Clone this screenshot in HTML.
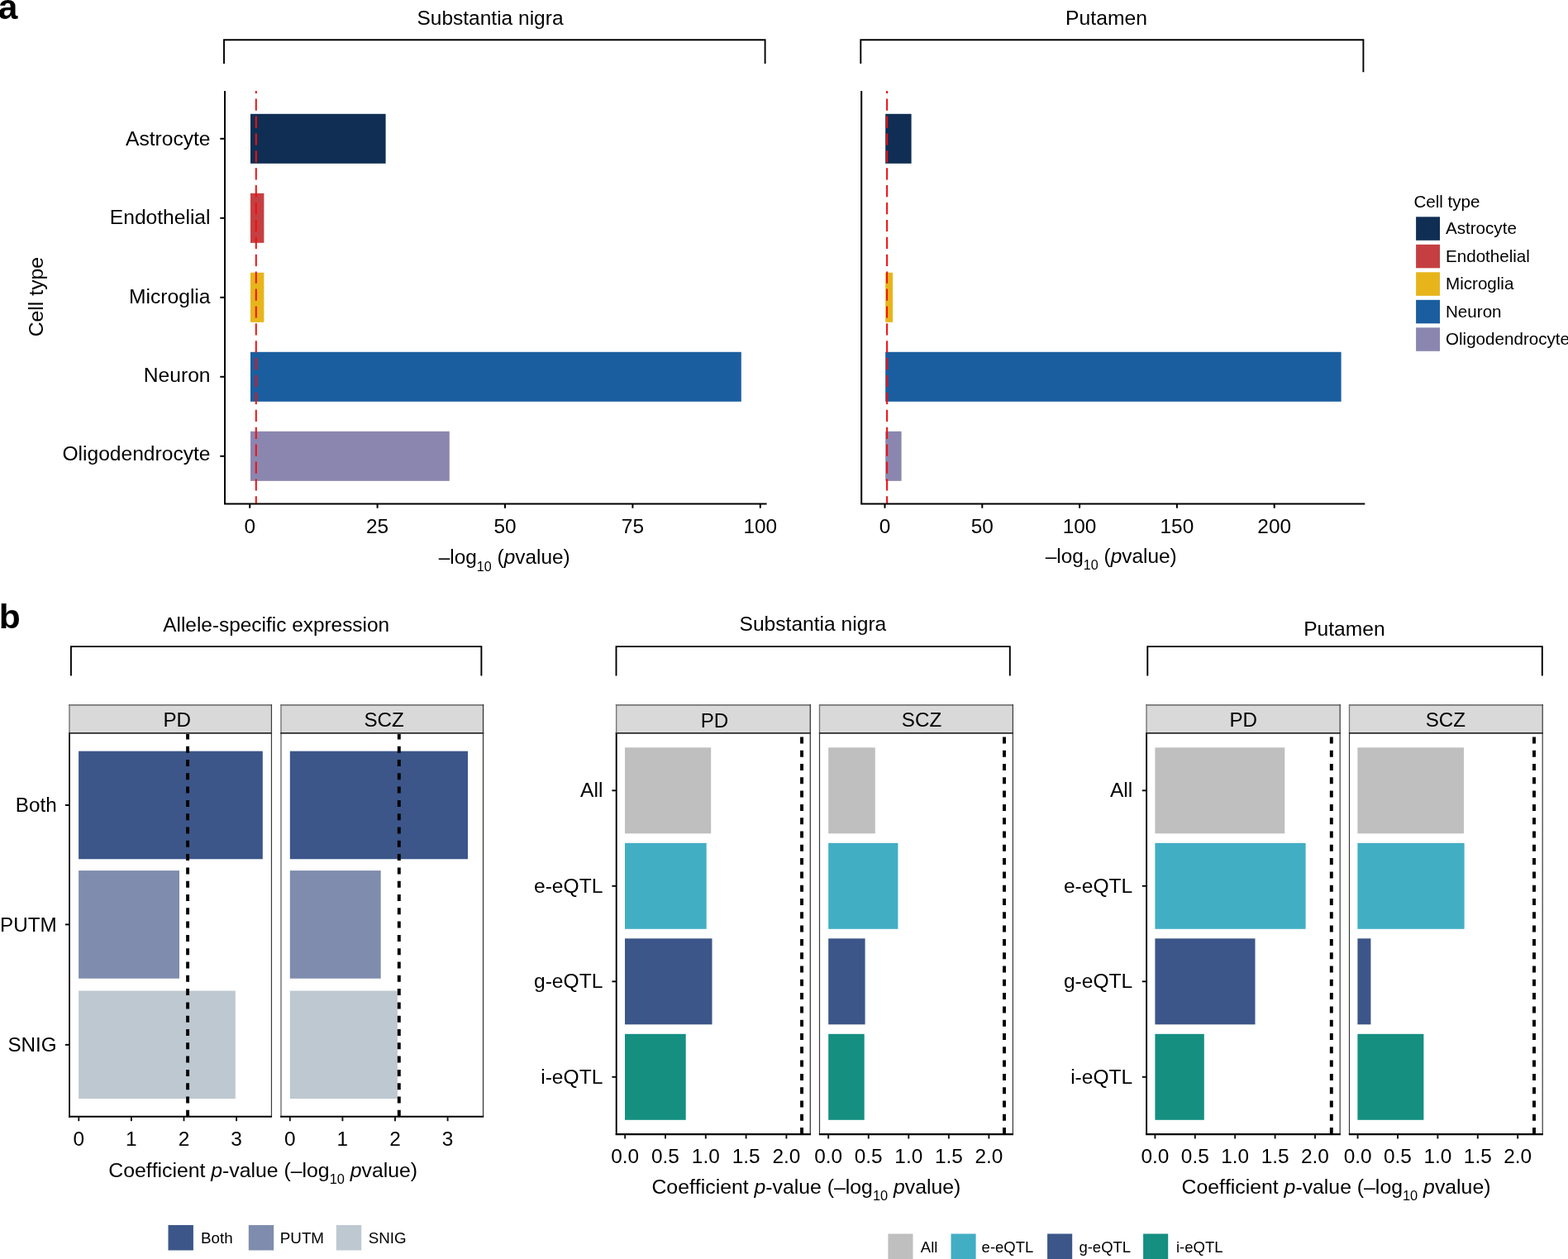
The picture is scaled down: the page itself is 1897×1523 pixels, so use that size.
<!DOCTYPE html>
<html><head><meta charset="utf-8"><title>Figure</title>
<style>
html,body{margin:0;padding:0;background:#fff;}
body{width:1897px;height:1523px;overflow:hidden;}
svg{display:block;}
text{font-family:"Liberation Sans", Arial, Helvetica, sans-serif;fill:#000;font-kerning:none;font-variant-ligatures:none;}
</style></head>
<body>
<svg width="1897" height="1523" viewBox="0 0 1897 1523">
<rect x="0" y="0" width="1897" height="1523" fill="#fff"/>
<text x="-2.20" y="22.90" font-size="42.5" text-anchor="start" font-weight="bold">a</text>
<text x="0" y="0" font-size="40.5" font-weight="bold" transform="translate(-1.2,759.7) scale(1.05,1)">b</text>
<text x="593.00" y="30.40" font-size="24.5" text-anchor="middle">Substantia nigra</text>
<path d="M271,77 V48.2 H925.6 V77" fill="none" stroke="#000" stroke-width="1.9"/>
<text x="1338.50" y="30.40" font-size="24.7" text-anchor="middle">Putamen</text>
<path d="M1041.3,77 V48.2 H1649.4 V87.3" fill="none" stroke="#000" stroke-width="1.9"/>
<rect x="303.00" y="137.80" width="163.60" height="60.00" fill="#102e54"/>
<rect x="303.00" y="233.80" width="16.40" height="60.00" fill="#c53f42"/>
<rect x="303.00" y="329.80" width="16.40" height="60.00" fill="#e7b51b"/>
<rect x="303.00" y="425.80" width="593.80" height="60.00" fill="#1b5ea0"/>
<rect x="303.00" y="521.80" width="240.80" height="60.00" fill="#8b86b0"/>
<rect x="1071.20" y="137.80" width="31.40" height="60.00" fill="#102e54"/>
<rect x="1071.20" y="329.80" width="8.90" height="60.00" fill="#e7b51b"/>
<rect x="1071.20" y="425.80" width="551.40" height="60.00" fill="#1b5ea0"/>
<rect x="1071.20" y="521.80" width="19.40" height="60.00" fill="#8b86b0"/>
<line x1="309.80" y1="110.10" x2="309.80" y2="609.00" stroke="#f01010" stroke-width="2" stroke-dasharray="14.2 6.7" stroke-dashoffset="11.4"/>
<line x1="1073.10" y1="110.10" x2="1073.10" y2="609.00" stroke="#f01010" stroke-width="2" stroke-dasharray="14.2 6.7" stroke-dashoffset="11.4"/>
<path d="M272,110 V609.4 H927.6" fill="none" stroke="#000" stroke-width="2"/>
<path d="M1042.2,110 V609.4 H1651.3" fill="none" stroke="#000" stroke-width="2"/>
<line x1="266.30" y1="167.80" x2="272.00" y2="167.80" stroke="#000" stroke-width="2"/>
<line x1="266.30" y1="263.80" x2="272.00" y2="263.80" stroke="#000" stroke-width="2"/>
<line x1="266.30" y1="359.80" x2="272.00" y2="359.80" stroke="#000" stroke-width="2"/>
<line x1="266.30" y1="455.80" x2="272.00" y2="455.80" stroke="#000" stroke-width="2"/>
<line x1="266.30" y1="551.80" x2="272.00" y2="551.80" stroke="#000" stroke-width="2"/>
<line x1="302.20" y1="609.40" x2="302.20" y2="614.70" stroke="#000" stroke-width="2"/>
<text x="302.20" y="644.50" font-size="24.4" text-anchor="middle">0</text>
<line x1="456.60" y1="609.40" x2="456.60" y2="614.70" stroke="#000" stroke-width="2"/>
<text x="456.60" y="644.50" font-size="24.4" text-anchor="middle">25</text>
<line x1="611.00" y1="609.40" x2="611.00" y2="614.70" stroke="#000" stroke-width="2"/>
<text x="611.00" y="644.50" font-size="24.4" text-anchor="middle">50</text>
<line x1="765.40" y1="609.40" x2="765.40" y2="614.70" stroke="#000" stroke-width="2"/>
<text x="765.40" y="644.50" font-size="24.4" text-anchor="middle">75</text>
<line x1="919.80" y1="609.40" x2="919.80" y2="614.70" stroke="#000" stroke-width="2"/>
<text x="919.80" y="644.50" font-size="24.4" text-anchor="middle">100</text>
<line x1="1070.50" y1="609.40" x2="1070.50" y2="614.70" stroke="#000" stroke-width="2"/>
<text x="1070.50" y="644.50" font-size="24.4" text-anchor="middle">0</text>
<line x1="1188.30" y1="609.40" x2="1188.30" y2="614.70" stroke="#000" stroke-width="2"/>
<text x="1188.30" y="644.50" font-size="24.4" text-anchor="middle">50</text>
<line x1="1306.10" y1="609.40" x2="1306.10" y2="614.70" stroke="#000" stroke-width="2"/>
<text x="1306.10" y="644.50" font-size="24.4" text-anchor="middle">100</text>
<line x1="1423.90" y1="609.40" x2="1423.90" y2="614.70" stroke="#000" stroke-width="2"/>
<text x="1423.90" y="644.50" font-size="24.4" text-anchor="middle">150</text>
<line x1="1541.70" y1="609.40" x2="1541.70" y2="614.70" stroke="#000" stroke-width="2"/>
<text x="1541.70" y="644.50" font-size="24.4" text-anchor="middle">200</text>
<text x="254.50" y="175.90" font-size="24.6" text-anchor="end">Astrocyte</text>
<text x="254.50" y="271.00" font-size="24.6" text-anchor="end">Endothelial</text>
<text x="254.50" y="366.70" font-size="24.6" text-anchor="end">Microglia</text>
<text x="254.50" y="461.90" font-size="24.6" text-anchor="end">Neuron</text>
<text x="254.50" y="556.60" font-size="24.6" text-anchor="end">Oligodendrocyte</text>
<text x="610.20" y="682.30" font-size="24.4" text-anchor="middle">–log<tspan font-size="16.1" dy="8.4">10</tspan><tspan dy="-8.4"> (</tspan><tspan font-style="italic">p</tspan>value)</text>
<text x="1344.20" y="680.80" font-size="24.4" text-anchor="middle">–log<tspan font-size="16.1" dy="8.4">10</tspan><tspan dy="-8.4"> (</tspan><tspan font-style="italic">p</tspan>value)</text>
<text transform="translate(51.6,359.1) rotate(-90)" font-size="24.8" text-anchor="middle">Cell type</text>
<text x="1710.40" y="250.60" font-size="20.6" text-anchor="start">Cell type</text>
<rect x="1713.10" y="262.30" width="28.90" height="28.50" fill="#102e54"/>
<text x="1749.00" y="283.30" font-size="20.6" text-anchor="start">Astrocyte</text>
<rect x="1713.10" y="295.80" width="28.90" height="28.50" fill="#c53f42"/>
<text x="1749.00" y="316.80" font-size="20.6" text-anchor="start">Endothelial</text>
<rect x="1713.10" y="329.30" width="28.90" height="28.50" fill="#e7b51b"/>
<text x="1749.00" y="350.30" font-size="20.6" text-anchor="start">Microglia</text>
<rect x="1713.10" y="362.80" width="28.90" height="28.50" fill="#1b5ea0"/>
<text x="1749.00" y="383.80" font-size="20.6" text-anchor="start">Neuron</text>
<rect x="1713.10" y="396.30" width="28.90" height="28.50" fill="#8b86b0"/>
<text x="1749.00" y="417.30" font-size="20.6" text-anchor="start">Oligodendrocyte</text>
<text x="334.20" y="763.50" font-size="24.4" text-anchor="middle">Allele-specific expression</text>
<path d="M85.9,817.6 V782.1 H582.4 V817.6" fill="none" stroke="#000" stroke-width="1.9"/>
<rect x="83.05" y="852.10" width="246.00" height="34.80" fill="#d9d9d9"/>
<line x1="83.05" y1="852.90" x2="329.05" y2="852.90" stroke="#777" stroke-width="1.6"/>
<line x1="84.00" y1="852.10" x2="84.00" y2="886.90" stroke="#737373" stroke-width="1.3"/>
<line x1="328.45" y1="852.10" x2="328.45" y2="886.90" stroke="#3c3c3c" stroke-width="1.2"/>
<text x="214.30" y="878.80" font-size="24.2" text-anchor="middle">PD</text>
<rect x="95.10" y="908.65" width="222.70" height="130.60" fill="#3c5689"/>
<rect x="95.10" y="1053.10" width="121.90" height="130.60" fill="#7f8cae"/>
<rect x="95.10" y="1198.55" width="189.70" height="130.60" fill="#bec8d1"/>
<line x1="227.10" y1="1350.80" x2="227.10" y2="887.90" stroke="#000" stroke-width="3.9" stroke-dasharray="8 8.3"/>
<line x1="328.45" y1="886.20" x2="328.45" y2="1350.80" stroke="#3c3c3c" stroke-width="1.2"/>
<line x1="84.00" y1="886.20" x2="84.00" y2="1351.80" stroke="#222" stroke-width="1.9"/>
<line x1="83.05" y1="886.95" x2="329.05" y2="886.95" stroke="#2b2b2b" stroke-width="1.8"/>
<line x1="83.05" y1="1350.80" x2="329.05" y2="1350.80" stroke="#000" stroke-width="2.1"/>
<line x1="95.30" y1="1351.30" x2="95.30" y2="1356.20" stroke="#111" stroke-width="1.9"/>
<text x="95.30" y="1386.20" font-size="24.4" text-anchor="middle">0</text>
<line x1="158.90" y1="1351.30" x2="158.90" y2="1356.20" stroke="#111" stroke-width="1.9"/>
<text x="158.90" y="1386.20" font-size="24.4" text-anchor="middle">1</text>
<line x1="222.50" y1="1351.30" x2="222.50" y2="1356.20" stroke="#111" stroke-width="1.9"/>
<text x="222.50" y="1386.20" font-size="24.4" text-anchor="middle">2</text>
<line x1="286.10" y1="1351.30" x2="286.10" y2="1356.20" stroke="#111" stroke-width="1.9"/>
<text x="286.10" y="1386.20" font-size="24.4" text-anchor="middle">3</text>
<rect x="339.20" y="852.10" width="246.00" height="34.80" fill="#d9d9d9"/>
<line x1="339.20" y1="852.90" x2="585.20" y2="852.90" stroke="#777" stroke-width="1.6"/>
<line x1="340.00" y1="852.10" x2="340.00" y2="886.90" stroke="#737373" stroke-width="1.3"/>
<line x1="584.55" y1="852.10" x2="584.55" y2="886.90" stroke="#3a3a3a" stroke-width="1.3"/>
<text x="464.60" y="878.70" font-size="24.2" text-anchor="middle">SCZ</text>
<rect x="350.80" y="908.65" width="215.20" height="130.60" fill="#3c5689"/>
<rect x="350.80" y="1053.10" width="109.90" height="130.60" fill="#7f8cae"/>
<rect x="350.80" y="1198.55" width="130.10" height="130.60" fill="#bec8d1"/>
<line x1="482.80" y1="1350.80" x2="482.80" y2="887.90" stroke="#000" stroke-width="3.9" stroke-dasharray="8 8.3"/>
<line x1="584.55" y1="886.20" x2="584.55" y2="1350.80" stroke="#3a3a3a" stroke-width="1.3"/>
<line x1="340.00" y1="886.20" x2="340.00" y2="1351.80" stroke="#808080" stroke-width="1.6"/>
<line x1="339.20" y1="886.95" x2="585.20" y2="886.95" stroke="#2b2b2b" stroke-width="1.8"/>
<line x1="339.20" y1="1350.80" x2="585.20" y2="1350.80" stroke="#000" stroke-width="2.1"/>
<line x1="350.80" y1="1351.30" x2="350.80" y2="1356.20" stroke="#111" stroke-width="1.9"/>
<text x="350.80" y="1386.20" font-size="24.4" text-anchor="middle">0</text>
<line x1="414.40" y1="1351.30" x2="414.40" y2="1356.20" stroke="#111" stroke-width="1.9"/>
<text x="414.40" y="1386.20" font-size="24.4" text-anchor="middle">1</text>
<line x1="478.00" y1="1351.30" x2="478.00" y2="1356.20" stroke="#111" stroke-width="1.9"/>
<text x="478.00" y="1386.20" font-size="24.4" text-anchor="middle">2</text>
<line x1="541.60" y1="1351.30" x2="541.60" y2="1356.20" stroke="#111" stroke-width="1.9"/>
<text x="541.60" y="1386.20" font-size="24.4" text-anchor="middle">3</text>
<line x1="78.90" y1="973.95" x2="84.00" y2="973.95" stroke="#000" stroke-width="1.9"/>
<text x="68.60" y="981.80" font-size="24.2" text-anchor="end">Both</text>
<line x1="78.90" y1="1118.40" x2="84.00" y2="1118.40" stroke="#000" stroke-width="1.9"/>
<text x="68.60" y="1126.90" font-size="24.2" text-anchor="end">PUTM</text>
<line x1="78.90" y1="1263.85" x2="84.00" y2="1263.85" stroke="#000" stroke-width="1.9"/>
<text x="68.60" y="1271.90" font-size="24.2" text-anchor="end">SNIG</text>
<text x="318.20" y="1423.80" font-size="24.8" text-anchor="middle">Coefficient <tspan font-style="italic">p</tspan>-value (–log<tspan font-size="16.4" dy="8.2">10</tspan><tspan dy="-8.2"> </tspan><tspan font-style="italic">p</tspan>value)</text>
<rect x="203.50" y="1482.00" width="30.40" height="30.50" fill="#3c5689"/>
<text x="243.00" y="1503.50" font-size="18.8" text-anchor="start">Both</text>
<rect x="300.80" y="1482.00" width="30.40" height="30.50" fill="#7f8cae"/>
<text x="338.80" y="1503.50" font-size="18.8" text-anchor="start">PUTM</text>
<rect x="406.80" y="1482.00" width="30.40" height="30.50" fill="#bec8d1"/>
<text x="445.70" y="1503.50" font-size="18.8" text-anchor="start">SNIG</text>
<text x="983.40" y="763.20" font-size="24.6" text-anchor="middle">Substantia nigra</text>
<path d="M745.5,817.6 V782.1 H1221.8 V817.6" fill="none" stroke="#000" stroke-width="1.9"/>
<rect x="744.75" y="852.10" width="236.20" height="34.80" fill="#d9d9d9"/>
<line x1="744.75" y1="852.90" x2="980.95" y2="852.90" stroke="#777" stroke-width="1.6"/>
<line x1="745.70" y1="852.10" x2="745.70" y2="886.90" stroke="#737373" stroke-width="1.3"/>
<line x1="980.30" y1="852.10" x2="980.30" y2="886.90" stroke="#3a3a3a" stroke-width="1.3"/>
<text x="864.50" y="879.50" font-size="24.2" text-anchor="middle">PD</text>
<rect x="756.00" y="904.30" width="104.20" height="104.00" fill="#bfbfbf"/>
<rect x="756.00" y="1019.80" width="98.70" height="104.00" fill="#42aec4"/>
<rect x="756.00" y="1135.30" width="105.50" height="104.00" fill="#3c5689"/>
<rect x="756.00" y="1250.80" width="73.70" height="104.00" fill="#148f80"/>
<line x1="970.05" y1="1372.10" x2="970.05" y2="887.90" stroke="#000" stroke-width="3.9" stroke-dasharray="8 8.3"/>
<line x1="980.30" y1="886.20" x2="980.30" y2="1372.10" stroke="#3a3a3a" stroke-width="1.3"/>
<line x1="745.70" y1="886.20" x2="745.70" y2="1373.10" stroke="#000" stroke-width="1.9"/>
<line x1="744.75" y1="886.95" x2="980.95" y2="886.95" stroke="#2b2b2b" stroke-width="1.8"/>
<line x1="744.75" y1="1372.10" x2="980.95" y2="1372.10" stroke="#000" stroke-width="2.1"/>
<line x1="756.20" y1="1372.60" x2="756.20" y2="1377.50" stroke="#111" stroke-width="1.9"/>
<text x="756.20" y="1406.80" font-size="24.4" text-anchor="middle">0.0</text>
<line x1="805.00" y1="1372.60" x2="805.00" y2="1377.50" stroke="#111" stroke-width="1.9"/>
<text x="805.00" y="1406.80" font-size="24.4" text-anchor="middle">0.5</text>
<line x1="853.80" y1="1372.60" x2="853.80" y2="1377.50" stroke="#111" stroke-width="1.9"/>
<text x="853.80" y="1406.80" font-size="24.4" text-anchor="middle">1.0</text>
<line x1="902.60" y1="1372.60" x2="902.60" y2="1377.50" stroke="#111" stroke-width="1.9"/>
<text x="902.60" y="1406.80" font-size="24.4" text-anchor="middle">1.5</text>
<line x1="951.40" y1="1372.60" x2="951.40" y2="1377.50" stroke="#111" stroke-width="1.9"/>
<text x="951.40" y="1406.80" font-size="24.4" text-anchor="middle">2.0</text>
<rect x="990.90" y="852.10" width="235.10" height="34.80" fill="#d9d9d9"/>
<line x1="990.90" y1="852.90" x2="1226.00" y2="852.90" stroke="#777" stroke-width="1.6"/>
<line x1="991.50" y1="852.10" x2="991.50" y2="886.90" stroke="#737373" stroke-width="1.3"/>
<line x1="1225.40" y1="852.10" x2="1225.40" y2="886.90" stroke="#3a3a3a" stroke-width="1.2"/>
<text x="1115.00" y="879.30" font-size="24.2" text-anchor="middle">SCZ</text>
<rect x="1002.20" y="904.30" width="56.60" height="104.00" fill="#bfbfbf"/>
<rect x="1002.20" y="1019.80" width="84.20" height="104.00" fill="#42aec4"/>
<rect x="1002.20" y="1135.30" width="44.40" height="104.00" fill="#3c5689"/>
<rect x="1002.20" y="1250.80" width="43.50" height="104.00" fill="#148f80"/>
<line x1="1215.00" y1="1372.10" x2="1215.00" y2="887.90" stroke="#000" stroke-width="3.9" stroke-dasharray="8 8.3"/>
<line x1="1225.40" y1="886.20" x2="1225.40" y2="1372.10" stroke="#3a3a3a" stroke-width="1.2"/>
<line x1="991.50" y1="886.20" x2="991.50" y2="1373.10" stroke="#3a3a3a" stroke-width="1.2"/>
<line x1="990.90" y1="886.95" x2="1226.00" y2="886.95" stroke="#2b2b2b" stroke-width="1.8"/>
<line x1="990.90" y1="1372.10" x2="1226.00" y2="1372.10" stroke="#000" stroke-width="2.1"/>
<line x1="1002.20" y1="1372.60" x2="1002.20" y2="1377.50" stroke="#111" stroke-width="1.9"/>
<text x="1002.20" y="1406.80" font-size="24.4" text-anchor="middle">0.0</text>
<line x1="1050.75" y1="1372.60" x2="1050.75" y2="1377.50" stroke="#111" stroke-width="1.9"/>
<text x="1050.75" y="1406.80" font-size="24.4" text-anchor="middle">0.5</text>
<line x1="1099.30" y1="1372.60" x2="1099.30" y2="1377.50" stroke="#111" stroke-width="1.9"/>
<text x="1099.30" y="1406.80" font-size="24.4" text-anchor="middle">1.0</text>
<line x1="1147.85" y1="1372.60" x2="1147.85" y2="1377.50" stroke="#111" stroke-width="1.9"/>
<text x="1147.85" y="1406.80" font-size="24.4" text-anchor="middle">1.5</text>
<line x1="1196.40" y1="1372.60" x2="1196.40" y2="1377.50" stroke="#111" stroke-width="1.9"/>
<text x="1196.40" y="1406.80" font-size="24.4" text-anchor="middle">2.0</text>
<line x1="740.40" y1="956.30" x2="745.70" y2="956.30" stroke="#000" stroke-width="1.9"/>
<text x="729.40" y="964.20" font-size="24.6" text-anchor="end">All</text>
<line x1="740.40" y1="1071.80" x2="745.70" y2="1071.80" stroke="#000" stroke-width="1.9"/>
<text x="729.40" y="1079.70" font-size="24.6" text-anchor="end">e-eQTL</text>
<line x1="740.40" y1="1187.30" x2="745.70" y2="1187.30" stroke="#000" stroke-width="1.9"/>
<text x="729.40" y="1195.20" font-size="24.6" text-anchor="end">g-eQTL</text>
<line x1="740.40" y1="1302.80" x2="745.70" y2="1302.80" stroke="#000" stroke-width="1.9"/>
<text x="729.40" y="1310.70" font-size="24.6" text-anchor="end">i-eQTL</text>
<text x="975.40" y="1443.80" font-size="24.8" text-anchor="middle">Coefficient <tspan font-style="italic">p</tspan>-value (–log<tspan font-size="16.4" dy="8.2">10</tspan><tspan dy="-8.2"> </tspan><tspan font-style="italic">p</tspan>value)</text>
<text x="1626.40" y="769.30" font-size="24.6" text-anchor="middle">Putamen</text>
<path d="M1388.3,817.6 V782.1 H1865.8 V817.6" fill="none" stroke="#000" stroke-width="1.9"/>
<rect x="1386.15" y="852.10" width="235.70" height="34.80" fill="#d9d9d9"/>
<line x1="1386.15" y1="852.90" x2="1621.85" y2="852.90" stroke="#777" stroke-width="1.6"/>
<line x1="1387.10" y1="852.10" x2="1387.10" y2="886.90" stroke="#737373" stroke-width="1.3"/>
<line x1="1621.20" y1="852.10" x2="1621.20" y2="886.90" stroke="#4a4a4a" stroke-width="1.3"/>
<text x="1504.30" y="878.80" font-size="24.2" text-anchor="middle">PD</text>
<rect x="1397.40" y="904.30" width="156.90" height="104.00" fill="#bfbfbf"/>
<rect x="1397.40" y="1019.80" width="182.20" height="104.00" fill="#42aec4"/>
<rect x="1397.40" y="1135.30" width="121.10" height="104.00" fill="#3c5689"/>
<rect x="1397.40" y="1250.80" width="59.40" height="104.00" fill="#148f80"/>
<line x1="1610.80" y1="1372.10" x2="1610.80" y2="887.90" stroke="#000" stroke-width="3.9" stroke-dasharray="8 8.3"/>
<line x1="1621.20" y1="886.20" x2="1621.20" y2="1372.10" stroke="#4a4a4a" stroke-width="1.3"/>
<line x1="1387.10" y1="886.20" x2="1387.10" y2="1373.10" stroke="#000" stroke-width="1.9"/>
<line x1="1386.15" y1="886.95" x2="1621.85" y2="886.95" stroke="#2b2b2b" stroke-width="1.8"/>
<line x1="1386.15" y1="1372.10" x2="1621.85" y2="1372.10" stroke="#000" stroke-width="2.1"/>
<line x1="1397.40" y1="1372.60" x2="1397.40" y2="1377.50" stroke="#111" stroke-width="1.9"/>
<text x="1397.40" y="1406.80" font-size="24.4" text-anchor="middle">0.0</text>
<line x1="1445.80" y1="1372.60" x2="1445.80" y2="1377.50" stroke="#111" stroke-width="1.9"/>
<text x="1445.80" y="1406.80" font-size="24.4" text-anchor="middle">0.5</text>
<line x1="1494.20" y1="1372.60" x2="1494.20" y2="1377.50" stroke="#111" stroke-width="1.9"/>
<text x="1494.20" y="1406.80" font-size="24.4" text-anchor="middle">1.0</text>
<line x1="1542.60" y1="1372.60" x2="1542.60" y2="1377.50" stroke="#111" stroke-width="1.9"/>
<text x="1542.60" y="1406.80" font-size="24.4" text-anchor="middle">1.5</text>
<line x1="1591.00" y1="1372.60" x2="1591.00" y2="1377.50" stroke="#111" stroke-width="1.9"/>
<text x="1591.00" y="1406.80" font-size="24.4" text-anchor="middle">2.0</text>
<rect x="1631.90" y="852.10" width="234.90" height="34.80" fill="#d9d9d9"/>
<line x1="1631.90" y1="852.90" x2="1866.80" y2="852.90" stroke="#777" stroke-width="1.6"/>
<line x1="1632.50" y1="852.10" x2="1632.50" y2="886.90" stroke="#737373" stroke-width="1.3"/>
<line x1="1866.20" y1="852.10" x2="1866.20" y2="886.90" stroke="#3a3a3a" stroke-width="1.2"/>
<text x="1748.90" y="878.80" font-size="24.2" text-anchor="middle">SCZ</text>
<rect x="1642.40" y="904.30" width="128.60" height="104.00" fill="#bfbfbf"/>
<rect x="1642.40" y="1019.80" width="129.20" height="104.00" fill="#42aec4"/>
<rect x="1642.40" y="1135.30" width="16.00" height="104.00" fill="#3c5689"/>
<rect x="1642.40" y="1250.80" width="80.00" height="104.00" fill="#148f80"/>
<line x1="1856.00" y1="1372.10" x2="1856.00" y2="887.90" stroke="#000" stroke-width="3.9" stroke-dasharray="8 8.3"/>
<line x1="1866.20" y1="886.20" x2="1866.20" y2="1372.10" stroke="#3a3a3a" stroke-width="1.2"/>
<line x1="1632.50" y1="886.20" x2="1632.50" y2="1373.10" stroke="#3a3a3a" stroke-width="1.2"/>
<line x1="1631.90" y1="886.95" x2="1866.80" y2="886.95" stroke="#2b2b2b" stroke-width="1.8"/>
<line x1="1631.90" y1="1372.10" x2="1866.80" y2="1372.10" stroke="#000" stroke-width="2.1"/>
<line x1="1642.60" y1="1372.60" x2="1642.60" y2="1377.50" stroke="#111" stroke-width="1.9"/>
<text x="1642.60" y="1406.80" font-size="24.4" text-anchor="middle">0.0</text>
<line x1="1691.00" y1="1372.60" x2="1691.00" y2="1377.50" stroke="#111" stroke-width="1.9"/>
<text x="1691.00" y="1406.80" font-size="24.4" text-anchor="middle">0.5</text>
<line x1="1739.40" y1="1372.60" x2="1739.40" y2="1377.50" stroke="#111" stroke-width="1.9"/>
<text x="1739.40" y="1406.80" font-size="24.4" text-anchor="middle">1.0</text>
<line x1="1787.80" y1="1372.60" x2="1787.80" y2="1377.50" stroke="#111" stroke-width="1.9"/>
<text x="1787.80" y="1406.80" font-size="24.4" text-anchor="middle">1.5</text>
<line x1="1836.20" y1="1372.60" x2="1836.20" y2="1377.50" stroke="#111" stroke-width="1.9"/>
<text x="1836.20" y="1406.80" font-size="24.4" text-anchor="middle">2.0</text>
<line x1="1381.80" y1="956.30" x2="1387.10" y2="956.30" stroke="#000" stroke-width="1.9"/>
<text x="1370.30" y="964.20" font-size="24.6" text-anchor="end">All</text>
<line x1="1381.80" y1="1071.80" x2="1387.10" y2="1071.80" stroke="#000" stroke-width="1.9"/>
<text x="1370.30" y="1079.70" font-size="24.6" text-anchor="end">e-eQTL</text>
<line x1="1381.80" y1="1187.30" x2="1387.10" y2="1187.30" stroke="#000" stroke-width="1.9"/>
<text x="1370.30" y="1195.20" font-size="24.6" text-anchor="end">g-eQTL</text>
<line x1="1381.80" y1="1302.80" x2="1387.10" y2="1302.80" stroke="#000" stroke-width="1.9"/>
<text x="1370.30" y="1310.70" font-size="24.6" text-anchor="end">i-eQTL</text>
<text x="1616.50" y="1444.10" font-size="24.8" text-anchor="middle">Coefficient <tspan font-style="italic">p</tspan>-value (–log<tspan font-size="16.4" dy="8.2">10</tspan><tspan dy="-8.2"> </tspan><tspan font-style="italic">p</tspan>value)</text>
<rect x="1074.40" y="1492.50" width="30.10" height="30.50" fill="#bfbfbf"/>
<text x="1113.80" y="1514.80" font-size="18.5" text-anchor="start">All</text>
<rect x="1150.50" y="1492.50" width="30.10" height="30.50" fill="#42aec4"/>
<text x="1187.60" y="1514.80" font-size="18.5" text-anchor="start">e-eQTL</text>
<rect x="1267.10" y="1492.50" width="30.10" height="30.50" fill="#3c5689"/>
<text x="1305.40" y="1514.80" font-size="18.5" text-anchor="start">g-eQTL</text>
<rect x="1383.10" y="1492.50" width="30.10" height="30.50" fill="#148f80"/>
<text x="1423.00" y="1514.80" font-size="18.5" text-anchor="start">i-eQTL</text>
</svg>
</body></html>
